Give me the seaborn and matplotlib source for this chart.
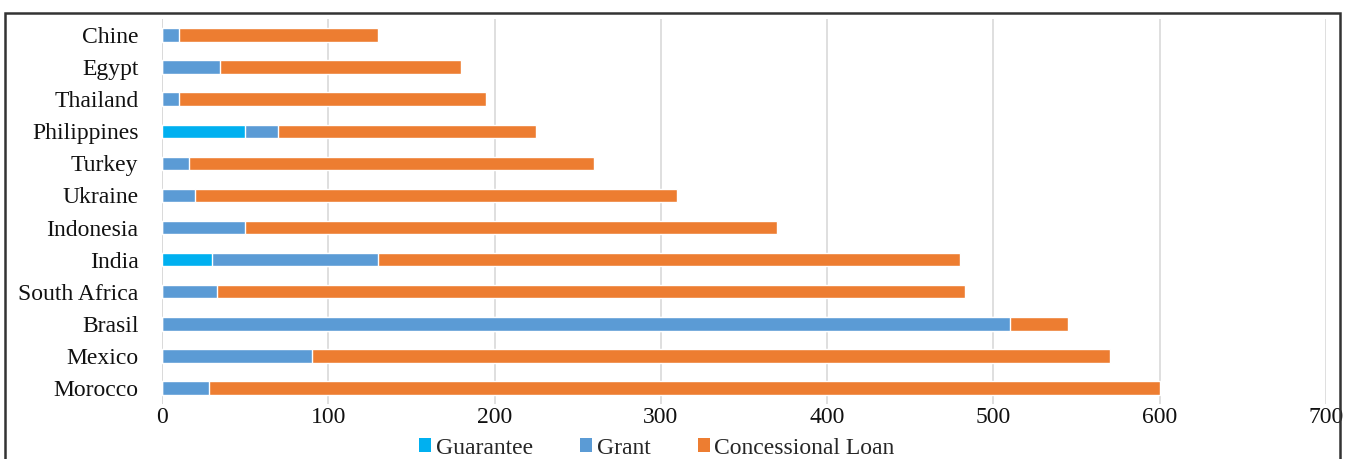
import pandas as pd
import seaborn as sns
import matplotlib.pyplot as plt
from matplotlib.patches import Rectangle, Patch

# data
countries = ['Chine', 'Egypt', 'Thailand', 'Philippines', 'Turkey', 'Ukraine',
             'Indonesia', 'India', 'South Africa', 'Brasil', 'Mexico', 'Morocco']
guarantee = [0, 0, 0, 50, 0, 0, 0, 30, 0, 0, 0, 0]
grant = [10, 35, 10, 20, 16, 20, 50, 100, 33, 510, 90, 28]
loan = [120, 145, 185, 155, 244, 290, 320, 350, 450, 35, 480, 572]

df = pd.DataFrame({'country': countries, 'Guarantee': guarantee,
                   'Grant': grant, 'Concessional Loan': loan})
df['g1'] = df['Guarantee']
df['g2'] = df['g1'] + df['Grant']
df['g3'] = df['g2'] + df['Concessional Loan']

colors = {'Guarantee': '#00B0F0', 'Grant': '#5B9BD5', 'Concessional Loan': '#ED7D31'}

sns.set_theme(style='white')
plt.rcParams['font.family'] = ['Liberation Serif', 'DejaVu Serif']

fig = plt.figure(figsize=(13.48, 4.59), dpi=100)
ax = fig.add_axes([162 / 1348, 1 - 404 / 459, (1326 - 162) / 1348, (404 - 19) / 459])

# stacked bars: draw cumulative totals back to front
sns.barplot(data=df, x='g3', y='country', color=colors['Concessional Loan'],
            width=0.42, ax=ax, saturation=1, zorder=3)
sns.barplot(data=df, x='g2', y='country', color=colors['Grant'],
            width=0.42, ax=ax, saturation=1, zorder=4)
sns.barplot(data=df, x='g1', y='country', color=colors['Guarantee'],
            width=0.42, ax=ax, saturation=1, zorder=5)

ax.set_xlim(0, 700)
ax.set_xticks(range(0, 701, 100))
ax.set_xlabel('')
ax.set_ylabel('')
ax.grid(axis='x', color='#D9D9D9', linewidth=1.2, zorder=0)
ax.set_axisbelow(True)
for s in ax.spines.values():
    s.set_visible(False)
ax.axvline(0, color='#D9D9D9', linewidth=1.2, zorder=1)
ax.tick_params(axis='y', length=0, pad=17, labelsize=17, labelcolor='#111111')
ax.tick_params(axis='x', length=0, pad=2, labelsize=17, labelcolor='#111111')

# legend
handles = [Patch(facecolor=colors[k], edgecolor='none') for k in colors]
fig.legend(handles, list(colors.keys()), loc='center', ncol=3,
           bbox_to_anchor=(657 / 1348, 1 - 448 / 459), frameon=False,
           fontsize=17, handlelength=0.5, handleheight=0.5,
           handletextpad=0.2, columnspacing=2.0)

# outer frame
fig.patches.append(Rectangle((5 / 1348, -0.05), (1340 - 5) / 1348, 1.05 - 13 / 459,
                             transform=fig.transFigure, fill=False,
                             edgecolor='#333333', linewidth=1.8))

fig.savefig('out.png', dpi=100)
